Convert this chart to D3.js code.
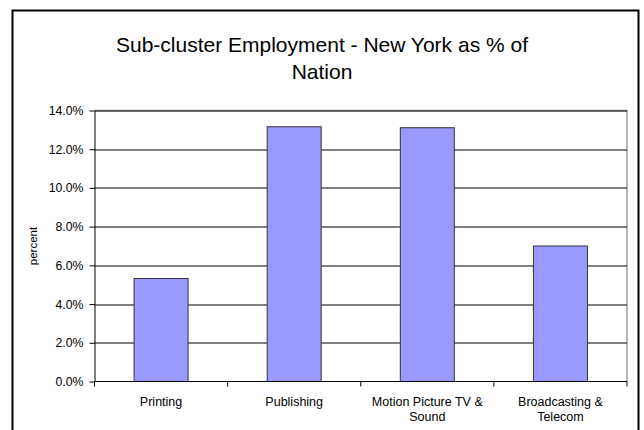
<!DOCTYPE html>
<html>
<head>
<meta charset="utf-8">
<script src="https://cdn.jsdelivr.net/npm/d3@7"></script>
<style>
  body { margin: 0; background: #fff; }
  svg text { font-family: "Liberation Sans", Arial, sans-serif; }
</style>
</head>
<body>
<div id="chart"></div>
<script>
// data
var categories = ["Printing", "Publishing", "Motion Picture TV & Sound", "Broadcasting & Telecom"];
var labelLines = [["Printing"], ["Publishing"], ["Motion Picture TV &", "Sound"], ["Broadcasting &", "Telecom"]];
var values = [0.0532, 0.1316, 0.1311, 0.0700];
var yTicks = [0, 0.02, 0.04, 0.06, 0.08, 0.10, 0.12, 0.14];

var W = 644, H = 430;
var margin = {top: 110.5, right: 17, bottom: 48.5, left: 94.5},
    width = W - margin.left - margin.right,
    height = H - margin.top - margin.bottom;

var svg = d3.select("#chart").append("svg")
    .attr("width", W)
    .attr("height", H);

// outer chart border
svg.append("rect")
    .attr("x", 12.5).attr("y", 10.5)
    .attr("width", 626).attr("height", 425)
    .attr("fill", "none")
    .attr("stroke", "#000")
    .attr("stroke-width", 2);

// title
svg.append("text")
    .attr("x", 322).attr("y", 52)
    .attr("text-anchor", "middle")
    .attr("font-size", 21)
    .text("Sub-cluster Employment - New York as % of");
svg.append("text")
    .attr("x", 322).attr("y", 79)
    .attr("text-anchor", "middle")
    .attr("font-size", 21)
    .text("Nation");

var g = svg.append("g")
    .attr("transform", "translate(" + margin.left + "," + margin.top + ")");

var xOuter = d3.scaleBand().domain(categories).range([0, width]);

var y = d3.scaleLinear()
    .domain([0, 0.14])
    .range([height, 0]);

// plot area border (top/right gray)
g.append("path")
    .attr("d", "M0,0H" + width + "V" + height)
    .attr("fill", "none")
    .attr("stroke", "#a0a0a0")
    .attr("stroke-width", 1.5);

// gridlines
g.selectAll(".grid")
  .data(yTicks.slice(1))
  .enter().append("line")
    .attr("x1", 0).attr("x2", width)
    .attr("y1", function(d) { return Math.round(y(d)) + 0.5; })
    .attr("y2", function(d) { return Math.round(y(d)) + 0.5; })
    .attr("stroke", "#000")
    .attr("stroke-width", 1);

// bars
g.selectAll(".bar")
  .data(values)
  .enter().append("rect")
    .attr("x", function(d, i) { return xOuter(categories[i]) + (xOuter.bandwidth() - 54) / 2; })
    .attr("width", 54)
    .attr("y", function(d) { return y(d); })
    .attr("height", function(d) { return height - y(d); })
    .attr("fill", "#9999ff")
    .attr("stroke", "#333")
    .attr("stroke-width", 1);

// y axis
var yAxis = g.append("g")
    .call(d3.axisLeft(y).tickValues(yTicks).tickSize(5).tickSizeOuter(0).tickFormat(d3.format(".1%")));
yAxis.select(".domain").attr("stroke", "#000");
yAxis.selectAll(".tick line").attr("stroke", "#000");
yAxis.selectAll("text")
    .attr("font-size", 12.3)
    .attr("fill", "#000")
    .attr("x", -11);

// x axis: ticks between categories
var xAxisG = g.append("g")
    .attr("transform", "translate(0," + height + ")");
xAxisG.append("line")
    .attr("x1", 0).attr("x2", width)
    .attr("stroke", "#000");
xAxisG.selectAll(".xtick")
  .data(d3.range(categories.length + 1))
  .enter().append("line")
    .attr("x1", function(i) { return i * xOuter.step(); })
    .attr("x2", function(i) { return i * xOuter.step(); })
    .attr("y1", 0).attr("y2", 5)
    .attr("stroke", "#000");

var xl = xAxisG.selectAll(".xlabel")
  .data(categories)
  .enter().append("text")
    .attr("text-anchor", "middle")
    .attr("font-size", 12.5)
    .attr("y", 24);
xl.each(function(d, i) {
  var t = d3.select(this);
  labelLines[i].forEach(function(line, j) {
    t.append("tspan")
      .attr("x", xOuter(d) + xOuter.bandwidth() / 2)
      .attr("dy", j === 0 ? 0 : 15)
      .text(line);
  });
});

// y label
svg.append("text")
    .attr("transform", "translate(37,246) rotate(-90)")
    .attr("text-anchor", "middle")
    .attr("font-size", 11.5)
    .text("percent");
</script>
</body>
</html>
